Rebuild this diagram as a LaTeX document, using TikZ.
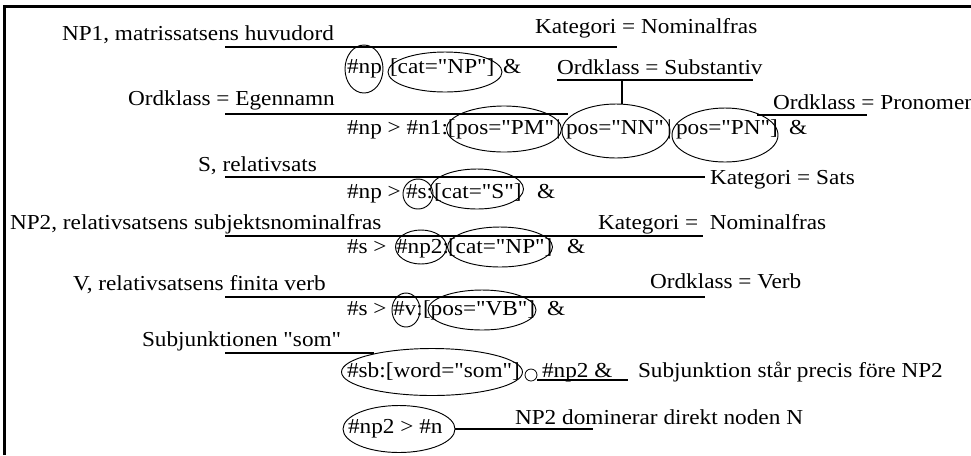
\documentclass[tikz,border=0pt]{standalone}
\usetikzlibrary{shapes.geometric}
\font\mainf="Liberation Serif:extend=1.09" at 16pt
\begin{document}
\begin{tikzpicture}[x=0.75pt,y=-0.75pt,
  lbl/.style={anchor=base west, inner sep=0pt, outer sep=0pt, font=\mainf},
  oval/.style 2 args={draw, ellipse, inner sep=0pt, outer sep=0pt, minimum width=#1*0.75pt, minimum height=#2*0.75pt, line width=0.7pt},
  conn/.style={line width=0.9pt},
  frame/.style={line width=2.3pt}]
\useasboundingbox (0,0) rectangle (971,455);
% frame
\draw[frame] (4.5,455) -- (4.5,6.5) -- (971,6.5);

% labels
\node[lbl] (np1)    at (62,40)   {NP1, matrissatsens huvudord};
\node[lbl] (katnf)  at (535,33)  {Kategori = Nominalfras};
\node[lbl] (subst)  at (557,74)  {Ordklass = Substantiv};
\node[lbl] (egen)   at (128,105) {Ordklass = Egennamn};
\node[lbl] (pron)   at (773,109) {Ordklass = Pronomen};
\node[lbl] (srel)   at (198,171) {S, relativsats};
\node[lbl] (katS)   at (710,184) {Kategori = Sats};
\node[lbl] (np2l)   at (10,229)  {NP2, relativsatsens subjektsnominalfras};
\node[lbl] (katnf2) at (598,229) {Kategori = \ Nominalfras};
\node[lbl] (vl)     at (73,290)  {V, relativsatsens finita verb};
\node[lbl] (verb)   at (650,288) {Ordklass = Verb};
\node[lbl] (subjl)  at (142,346) {Subjunktionen "som"};
\node[lbl] (fore)   at (638,377) {Subjunktion står precis före NP2};
\node[lbl] (dom)    at (515,424) {NP2 dominerar direkt noden N};

% row 2
\node[oval={38}{48}]  (enp)   at (364,69) {};
\node[oval={114}{40}] (ecat1) at (445,72) {};
\node[lbl] (f2a) at (347,73) {\#np};
\node[lbl] (f2b) at (390,73) {[cat="NP"]};
\node[lbl] (f2c) at (503,73) {\&};

% row 4
\node[oval={115}{46}] (epm) at (504,129) {};
\node[oval={108}{54}] (enn) at (616,131) {};
\node[oval={106}{54}] (epn) at (725,135) {};
\node[lbl] (f4a) at (347,134) {\#np > \#n1:[};
\node[lbl] (f4b) at (456,134) {pos="PM"};
\node[lbl] (f4c) at (556,134) {|};
\node[lbl] (f4d) at (566,134) {pos="NN"};
\node[lbl] (f4e) at (667,134) {|};
\node[lbl] (f4f) at (676,134) {pos="PN"]};
\node[lbl] (f4g) at (789,134) {\&};

% row 6
\node[oval={30}{30}] (es)    at (418,194) {};
\node[oval={93}{40}] (ecat2) at (477,189) {};
\node[lbl] (f6a) at (347,198) {\#np >};
\node[lbl] (f6b) at (406,198) {\#s:};
\node[lbl] (f6c) at (434,198) {[cat="S"]};
\node[lbl] (f6d) at (537,198) {\&};

% row 8
\node[oval={51}{34}]  (enp2)  at (421,247) {};
\node[oval={105}{40}] (ecat3) at (500,247) {};
\node[lbl] (f8a) at (347,253) {\#s >};
\node[lbl] (f8b) at (396,253) {\#np2:};
\node[lbl] (f8c) at (448,253) {[cat="NP"]};
\node[lbl] (f8d) at (567,253) {\&};

% row 10
\node[oval={28}{34}]  (ev)   at (406,310) {};
\node[oval={108}{40}] (epos) at (482,310) {};
\node[lbl] (f10a) at (347,315) {\#s >};
\node[lbl] (f10b) at (393,315) {\#v:};
\node[lbl] (f10c) at (423,315) {[pos="VB"]};
\node[lbl] (f10d) at (547,315) {\&};

% row 12
\node[oval={181}{47}] (esb) at (432,372) {};
\node[lbl] (f12a) at (347,377) {\#sb:[word="som"]};
\node[draw, circle, minimum size=9pt, inner sep=0pt, line width=0.6pt] (prec) at (531,375) {};
\node[lbl] (f12b) at (542,377) {\#np2 \&};

% row 14
\node[oval={112}{47}] (en) at (399,429) {};
\node[lbl] (f14) at (348,433) {\#np2 > \#n};

% connectors
\coordinate (a1) at (225,47);  \coordinate (b1) at (617,47);
\coordinate (a2) at (557,80);  \coordinate (b2) at (753,80);
\coordinate (tk) at (622,80);
\coordinate (a3) at (225,114); \coordinate (b3) at (568,114);
\coordinate (a4) at (757,115); \coordinate (b4) at (867,115);
\coordinate (a5) at (225,177); \coordinate (b5) at (705,177);
\coordinate (a6) at (225,236); \coordinate (b6) at (703,236);
\coordinate (a7) at (225,297); \coordinate (b7) at (705,297);
\coordinate (a8) at (225,353); \coordinate (b8) at (374,353);
\coordinate (b9) at (628,380);
\coordinate (b10) at (593,429);
\draw[conn] (a1) -- (b1);
\draw[conn] (a2) -- (b2);
\draw[conn] (tk) -- (tk |- enn.north);
\draw[conn] (a3) -- (b3);
\draw[conn] (a4) -- (b4);
\draw[conn] (a5) -- (b5);
\draw[conn] (a6) -- (b6);
\draw[conn] (a7) -- (b7);
\draw[conn] (a8) -- (b8);
\draw[conn] (b9 -| prec.east) -- (b9);
\draw[conn] (en.east) -- (b10);
\end{tikzpicture}
\end{document}
